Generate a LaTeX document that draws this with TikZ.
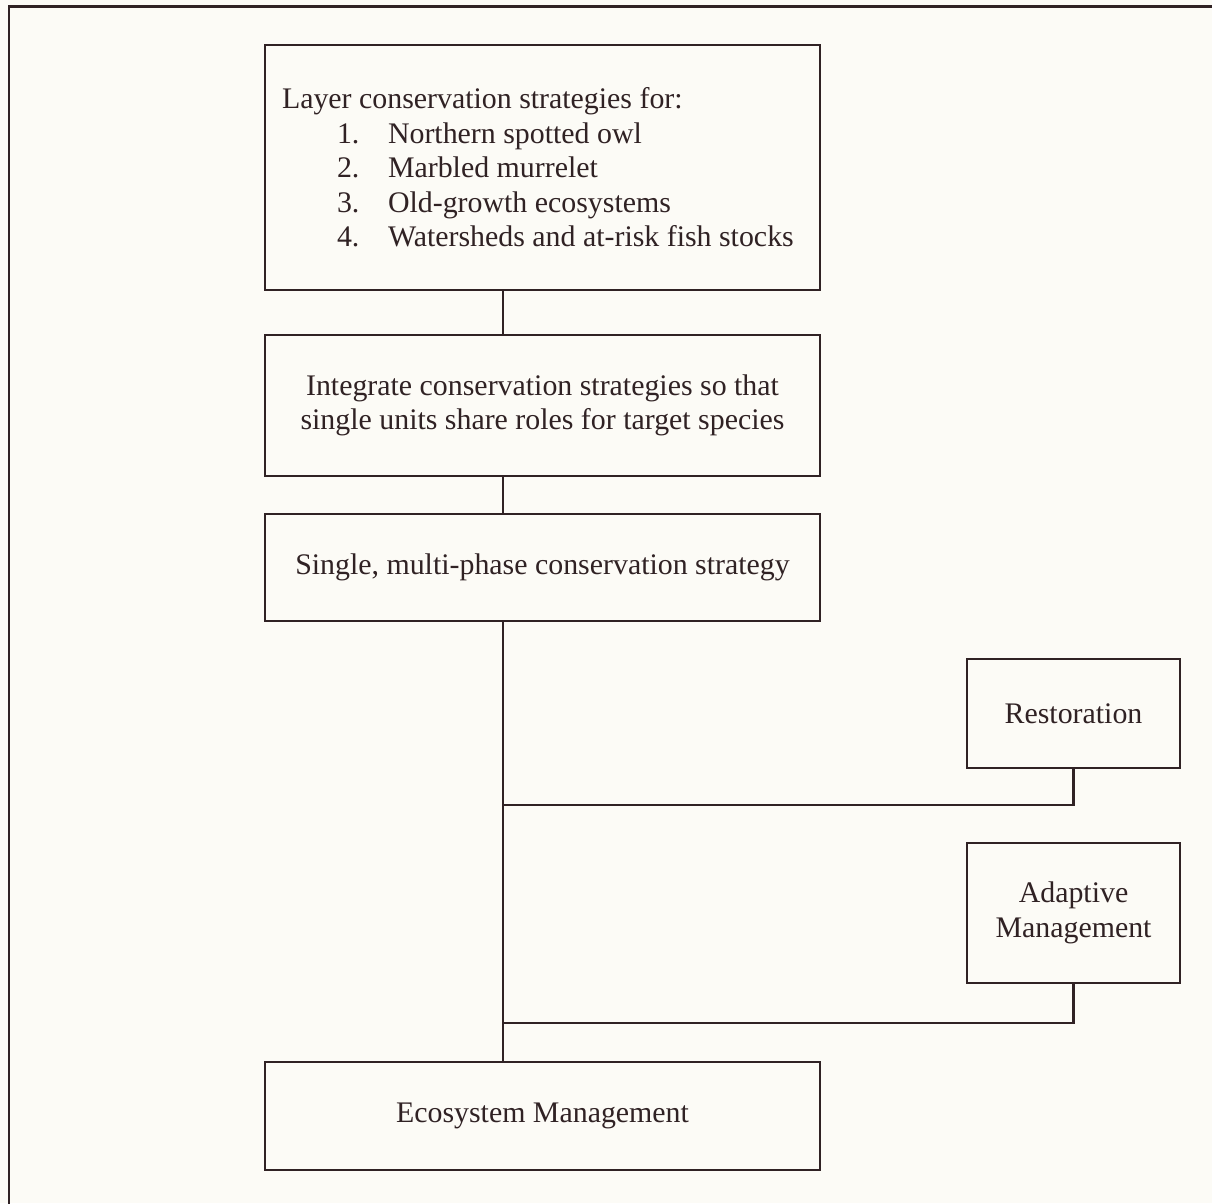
\documentclass[tikz,border=0pt]{standalone}
\usepackage{fontspec}
\setmainfont{Liberation Serif}
\usetikzlibrary{positioning}
\definecolor{ink}{RGB}{48,34,36}
\definecolor{paper}{RGB}{252,251,246}

\begin{document}
\begin{tikzpicture}[x=0.1mm, y=-0.1mm,
      box/.style={draw=ink, line width=0.7pt, inner sep=0pt, align=flush center, text=ink,
        minimum width=55.5mm, font=\fontsize{8.5}{9.8}\selectfont},
      side/.style={box, minimum width=21.3mm},
      link/.style={draw=ink, line width=0.65pt}]
    \fill[paper] (0,0) rectangle (1212,1203);
    \useasboundingbox (0,0) rectangle (1212,1203);
    % page frame, running off the right and bottom edges
    \begin{scope}
      \clip (0,0) rectangle (1212,1203);
      \draw[ink, line width=0.85pt] (9,1260) |- (1260,7);
    \end{scope}
    \node[box, minimum height=24.5mm, text width=52.1mm, align=flush left] (layer) at (542.5,167.5)
      {Layer conservation strategies for:\\
       \hspace*{5.5mm}\makebox[5.1mm][l]{1.}Northern spotted owl\\
       \hspace*{5.5mm}\makebox[5.1mm][l]{2.}Marbled murrelet\\
       \hspace*{5.5mm}\makebox[5.1mm][l]{3.}Old-growth ecosystems\\
       \hspace*{5.5mm}\makebox[5.1mm][l]{4.}\mbox{Watersheds and at-risk fish stocks}};
    \node[box, minimum height=14.1mm] (integ) at (542.5,405.5)
      {Integrate conservation strategies so that\\single units share roles for target species};
    \node[box, minimum height=10.7mm] (single) at (542.5,567.5)
      {Single, multi-phase conservation strategy};
    \node[side, minimum height=10.9mm] (resto) at (1073.5,713.5) {Restoration};
    \node[side, minimum height=14mm] (adapt) at (1073.5,913) {Adaptive\\Management};
    \node[box, minimum height=10.8mm] (eco) at (542.5,1116) {Ecosystem Management};
    % spine and joins
    \coordinate (spine) at (503,0);
    \coordinate (rjoin) at (503,805);
    \coordinate (ajoin) at (503,1023);
    \draw[link] (layer.south -| spine) -- (integ.north -| spine);
    \draw[link] (integ.south -| spine) -- (single.north -| spine);
    \draw[link] (single.south -| spine) -- (eco.north -| spine);
    \draw[link] (resto.south) |- (rjoin);
    \draw[link] (adapt.south) |- (ajoin);
  \end{tikzpicture}
\end{document}
